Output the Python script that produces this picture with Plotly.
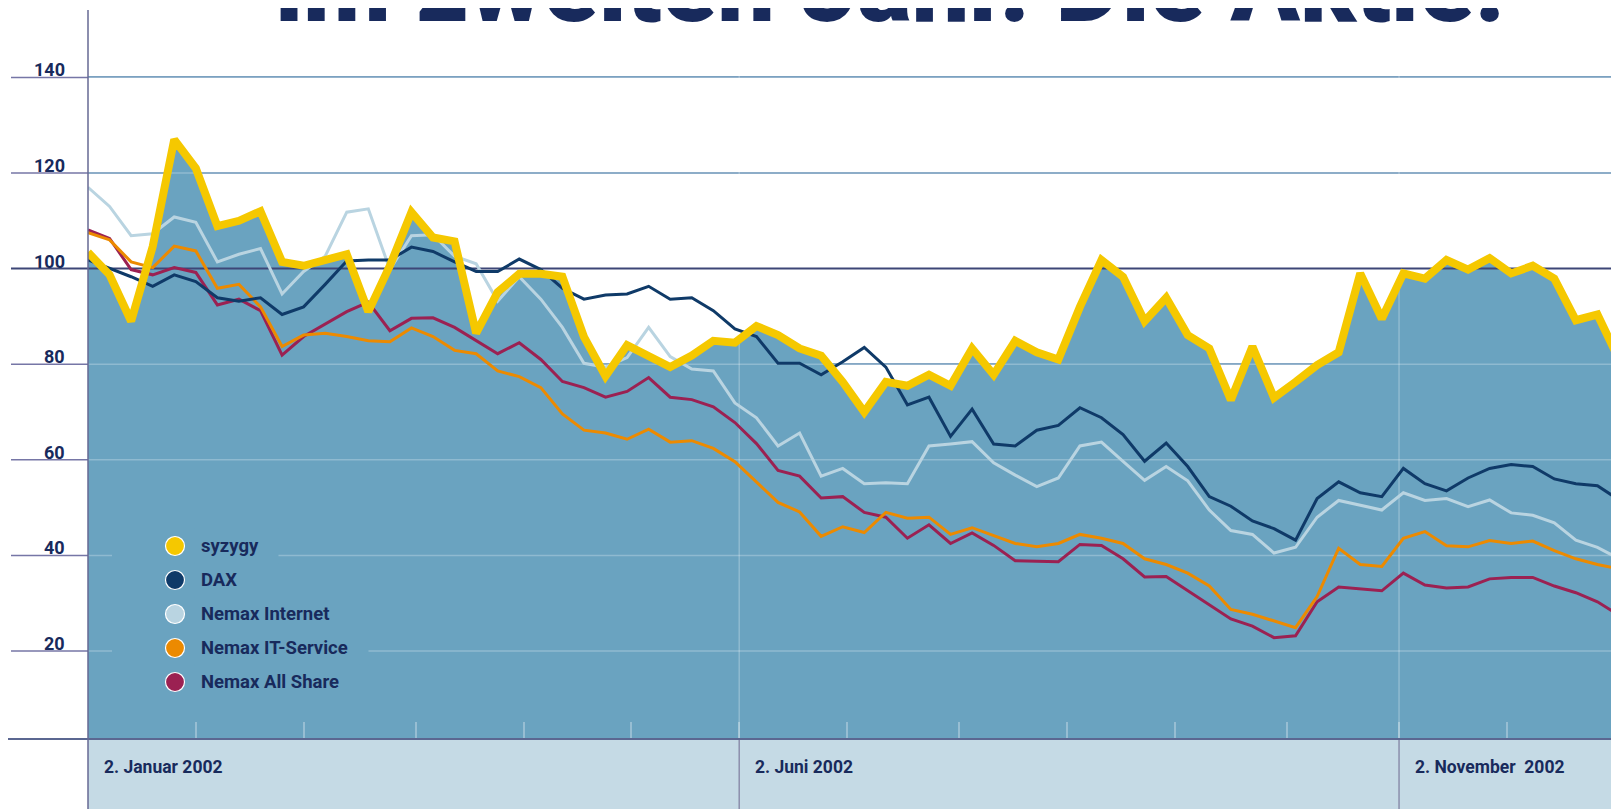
import pandas as pd
import plotly.graph_objects as go

# --- data (index = 100 on 2. Januar 2002), one point every 5 days ---
dates = pd.date_range("2002-01-02", periods=72, freq="5D")

syzygy = [103.4, 98.7, 89, 104.6, 127, 121, 108.9, 110, 112, 101.4, 100.6, 101.8,
          103, 91, 100.6, 111.8, 106.5, 105.7, 86.5, 95.1, 98.9, 98.9, 98.3, 85.7,
          77.5, 84, 81.8, 79.4, 81.8, 84.9, 84.5, 88, 86.1, 83.3, 81.8, 76.3,
          70, 76.3, 75.5, 77.8, 75.5, 83.3, 77.8, 84.9, 82.5, 81, 92, 101.8,
          98.3, 89, 93.9, 86.1, 83.3, 72.5, 83.7, 73, 76.3, 79.8, 82.5, 99,
          89.5, 99, 97.9, 101.8, 99.8, 102.2, 99, 100.6, 97.9, 89.2, 90.4, 81]
dax = [101.8, 100, 98.3, 96.3, 98.7, 97.3, 93.9, 93.2, 93.9, 90.4, 92, 96.7,
       101.6, 101.8, 101.8, 104.5, 103.6, 101.4, 99.4, 99.4, 102, 99.8, 95.9, 93.6,
       94.5, 94.7, 96.3, 93.6, 93.9, 91.2, 87.4, 85.8, 80.2, 80.2, 77.8, 80.5,
       83.5, 79.4, 71.5, 73.1, 64.9, 70.6, 63.3, 62.9, 66.2, 67.2, 70.9, 68.8,
       65.3, 59.7, 63.5, 58.6, 52.3, 50.3, 47.2, 45.6, 43.2, 51.9, 55.4, 53.1,
       52.3, 58.2, 55, 53.5, 56.2, 58.2, 59, 58.6, 56, 55, 54.6, 51.6]
nemax_internet = [117, 113, 106.9, 107.3, 110.8, 109.7, 101.4, 103, 104.2, 94.7, 99.4, 102.6,
                  111.8, 112.5, 99.8, 106.9, 107.1, 102.6, 101, 93.2, 98.3, 93.6, 87.7, 80.2,
                  79.4, 81.4, 87.7, 81.6, 79, 78.6, 71.9, 68.8, 62.9, 65.6, 56.6, 58.2,
                  55, 55.2, 55, 62.9, 63.3, 63.8, 59.4, 56.8, 54.4, 56.2, 62.9, 63.7,
                  59.7, 55.7, 58.6, 55.6, 49.5, 45.2, 44.4, 40.5, 41.7, 48, 51.5, 50.5,
                  49.5, 53.1, 51.5, 51.9, 50.2, 51.6, 48.9, 48.4, 46.8, 43.2, 41.7, 39.3]
nemax_it = [107.5, 106, 101.4, 100.2, 104.7, 103.7, 95.9, 96.7, 92, 83.7, 86.1, 86.5,
            85.8, 84.9, 84.7, 87.6, 85.8, 82.9, 82.2, 78.6, 77.4, 75.1, 69.6, 66.2,
            65.6, 64.3, 66.4, 63.7, 64, 62.4, 59.6, 55.4, 51.1, 49.1, 44, 46,
            44.8, 49, 47.8, 48, 44.4, 45.8, 44.2, 42.5, 41.8, 42.5, 44.4, 43.6,
            42.5, 39.3, 38.1, 36.3, 33.6, 28.7, 27.7, 26.3, 24.9, 31.4, 41.5, 38.1,
            37.7, 43.6, 45, 42, 41.8, 43.1, 42.5, 43, 41, 39.3, 38.1, 37.2]
nemax_all = [108.1, 106.3, 99.8, 98.7, 100.2, 99.2, 92.4, 93.6, 91.2, 81.9, 85.8, 88.4,
             91, 93, 87, 89.6, 89.7, 87.7, 84.9, 82.2, 84.5, 81, 76.4, 75.1,
             73.1, 74.3, 77.2, 73.1, 72.6, 71.1, 67.8, 63.4, 57.8, 56.6, 52, 52.3,
             49, 48, 43.6, 46.4, 42.5, 44.7, 42.1, 38.9, 38.8, 38.7, 42.3, 42.1,
             39.3, 35.5, 35.6, 32.6, 29.6, 26.7, 25.2, 22.8, 23.2, 30.3, 33.4, 33,
             32.6, 36.3, 33.8, 33.2, 33.4, 35.1, 35.4, 35.4, 33.6, 32.2, 30.3, 27.5]

y_ticks = [20, 40, 60, 80, 100, 120, 140]
x_labels = ["2002-01-02", "2002-06-02", "2002-11-02"]
x_label_text = ["2. Januar 2002", "2. Juni 2002", "2. November\u00a0 2002"]
minor_ticks = ["2002-01-27", "2002-02-21", "2002-03-19", "2002-04-13", "2002-05-08",
               "2002-06-02", "2002-06-27", "2002-07-23", "2002-08-17", "2002-09-11",
               "2002-10-07", "2002-11-02", "2002-11-27", "2002-12-22"]

names = ["syzygy", "DAX", "Nemax Internet", "Nemax IT-Service", "Nemax All Share"]
colors = ["#f5c800", "#0f3a68", "#b9d4e1", "#ec8a00", "#9b2152"]

NAVY = "#182a5c"
FILL = "#6aa3c0"
OFF = 8                      # page body margin: the figure sits 8px in from the corner
W, H = 1619 - OFF, 809 - OFF
ML, MT, MB = 88 - OFF, 10 - OFF, 70
PW, PH = W - ML, H - MT - MB


def px_x(p):   # page pixel -> paper x
    return (p - OFF - ML) / PW


def px_y(p):   # page pixel -> paper y
    return (H - MB - (p - OFF)) / PH


fig = go.Figure()

# area under syzygy
fig.add_trace(go.Scatter(x=dates, y=syzygy, mode="lines", line=dict(width=0),
                         fill="tozeroy", fillcolor=FILL, hoverinfo="skip"))

# light grid over the area
x_ends = [dates[0], dates[-1]]
for v in y_ticks:
    if v == 100:
        continue
    fig.add_trace(go.Scatter(x=x_ends, y=[v, v], mode="lines", hoverinfo="skip",
                             line=dict(color="rgba(255,255,255,0.25)", width=1.5)))
for d in x_labels[1:]:
    fig.add_trace(go.Scatter(x=[d, d], y=[0, 160], mode="lines", hoverinfo="skip",
                             line=dict(color="rgba(255,255,255,0.25)", width=1.5)))
fig.add_trace(go.Scatter(x=x_ends, y=[100, 100], mode="lines", hoverinfo="skip",
                         line=dict(color="#3d4677", width=2)))

# series lines (syzygy on top)
series = {"syzygy": syzygy, "DAX": dax, "Nemax Internet": nemax_internet,
          "Nemax IT-Service": nemax_it, "Nemax All Share": nemax_all}
for name in ["Nemax Internet", "Nemax All Share", "Nemax IT-Service", "DAX", "syzygy"]:
    c = colors[names.index(name)]
    fig.add_trace(go.Scatter(x=dates, y=series[name], mode="lines", name=name,
                             line=dict(color=c, width=8 if name == "syzygy" else 3)))

shapes = []
# bottom band
shapes.append(dict(type="rect", xref="paper", yref="paper", x0=0, x1=1,
                   y0=-MB / PH, y1=0, fillcolor="#c5dae5", line_width=0, layer="below"))
for d in x_labels[1:]:
    shapes.append(dict(type="line", xref="x", yref="paper", x0=d, x1=d,
                       y0=-MB / PH, y1=0, line=dict(color="#8b8eac", width=1.5)))
# left stubs of the grid lines
for v in y_ticks:
    shapes.append(dict(type="line", xref="paper", yref="y", x0=px_x(11), x1=0, y0=v, y1=v,
                       line=dict(color="#3d4677" if v == 100 else "#7676a6",
                                 width=2 if v == 100 else 1.5)))
# axis lines
shapes.append(dict(type="line", xref="paper", yref="paper", x0=px_x(8), x1=1, y0=0, y1=0,
                   line=dict(color="#5b6791", width=2)))
shapes.append(dict(type="line", xref="paper", yref="paper", x0=0, x1=0, y0=-MB / PH, y1=1,
                   line=dict(color="#666993", width=1.5)))

# legend
leg_y = [546, 580, 614, 648, 682]
shapes.append(dict(type="rect", xref="paper", yref="paper", x0=px_x(112), x1=px_x(200),
                   y0=px_y(leg_y[-1] + 17), y1=px_y(leg_y[0] - 17),
                   fillcolor=FILL, line_width=0, layer="above"))
annotations = []
for name, c, yy in zip(names, colors, leg_y):
    shapes.append(dict(type="circle", xref="paper", yref="paper",
                       xsizemode="pixel", ysizemode="pixel",
                       xanchor=px_x(175), yanchor=px_y(yy),
                       x0=-9.5, x1=9.5, y0=-9.5, y1=9.5,
                       fillcolor=c, line=dict(color="white", width=1.2), layer="above"))
    annotations.append(dict(text=f"<b>{name}</b>\u00a0\u00a0\u00a0", xref="paper", yref="paper",
                            x=px_x(194), y=px_y(yy), xanchor="left", yanchor="middle",
                            showarrow=False, bgcolor=FILL, borderpad=6,
                            font=dict(family="Roboto", size=18.5, color=NAVY)))

# y labels
for v in y_ticks:
    annotations.append(dict(text=f"<b>{v}</b>", xref="paper", yref="y", x=px_x(67), y=v,
                            xanchor="right", yanchor="bottom", yshift=-5, showarrow=False,
                            font=dict(family="Roboto", size=18, color=NAVY)))
# date labels
for d, t in zip(x_labels, x_label_text):
    annotations.append(dict(text=f"<b>{t}</b>", xref="x", yref="paper", x=d, y=px_y(767),
                            xanchor="left", yanchor="middle", xshift=14, showarrow=False,
                            font=dict(family="Roboto", size=17.5, color=NAVY)))
# headline, cut off at the top of the page
annotations.append(dict(text="im zweiten Jahr. Die Aktie.", xref="paper", yref="paper",
                        x=px_x(273), y=px_y(48), xanchor="left", yanchor="bottom",
                        showarrow=False,
                        font=dict(family="Roboto", size=102, color=NAVY, weight=900)))

fig.update_layout(
    width=W, height=H,
    margin=dict(l=ML, r=0, t=MT, b=MB),
    paper_bgcolor="white", plot_bgcolor="white",
    showlegend=False,
    shapes=shapes, annotations=annotations,
    xaxis=dict(type="date", range=["2002-01-02", "2002-12-23"], showgrid=False,
               zeroline=False, showline=False, showticklabels=False,
               tickmode="array", tickvals=minor_ticks, ticks="inside", ticklen=17,
               tickwidth=1.5, tickcolor="rgba(255,255,255,0.3)"),
    yaxis=dict(range=[1.6, 154.1], showgrid=True, gridcolor="#739bbc", gridwidth=1.5,
               tickmode="array", tickvals=[v for v in y_ticks if v != 100],
               zeroline=False, showline=False, showticklabels=False, ticks=""),
)

fig.write_html("out.html")
